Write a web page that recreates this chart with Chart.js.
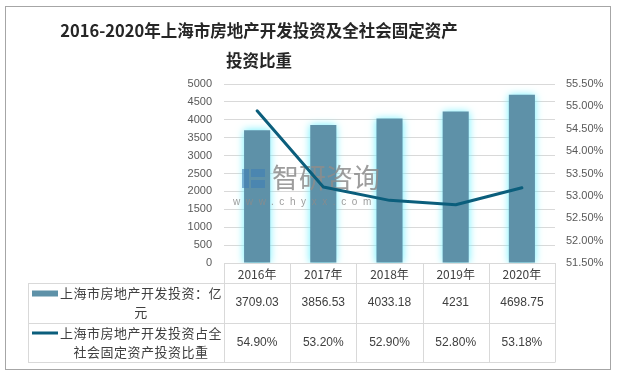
<!DOCTYPE html>
<html>
<head>
<meta charset="utf-8">
<script src="https://cdn.jsdelivr.net/npm/chart.js@4/dist/chart.umd.min.js"></script>
<style>
  html, body { margin: 0; padding: 0; background: #fff; }
  #wrap { width: 620px; height: 375px; position: relative; }
</style>
</head>
<body>
<div id="wrap"><canvas id="c" width="620" height="375"></canvas></div>
<script>
const titleLines = ['2016-2020年上海市房地产开发投资及全社会固定资产', '投资比重'];
const categories = ['2016年', '2017年', '2018年', '2019年', '2020年'];
const investment = [3709.03, 3856.53, 4033.18, 4231, 4698.75];
const shareRatio = [54.90, 53.20, 52.90, 52.80, 53.18];
const seriesNames = ['上海市房地产开发投资：亿元', '上海市房地产开发投资占全社会固定资产投资比重'];
const leftTicks = { min: 0, max: 5000, step: 500 };
const rightTicks = { min: 51.5, max: 55.5, step: 0.5 };

const BAR_COLOR = '#5E91A8';
const LINE_COLOR = '#0B5E7C';
const GRID = '#D9D9D9';
const TXT = '#404040';
const TICK = '#595959';
const FONT = '"Liberation Sans", "Noto Sans CJK SC", sans-serif';
const CJK = '"Noto Sans CJK SC", "Liberation Sans", sans-serif';

function drawWatermark(ctx) {
  ctx.save();
  ctx.globalAlpha = 0.6;
  ctx.fillStyle = '#3F7FB5';
  ctx.fillRect(242, 169, 7, 19);
  ctx.fillRect(251, 169, 14, 8);
  ctx.fillRect(251, 180, 14, 8);
  ctx.globalAlpha = 0.85;
  ctx.fillStyle = '#8C8C8C';
  ctx.font = '27px ' + CJK;
  ctx.textAlign = 'left';
  ctx.textBaseline = 'middle';
  ctx.letterSpacing = '0px';
  ctx.fillText('智研咨询', 272, 178);
  ctx.font = '10px ' + FONT;
  ctx.letterSpacing = '5.6px';
  ctx.fillText('www.chyxx.com', 233, 202);
  ctx.restore();
}

const glowPlugin = {
  id: 'glow',
  beforeDatasetDraw(chart, args) {
    if (args.meta.type === 'bar') {
      const ctx = chart.ctx;
      ctx.save();
      ctx.shadowColor = 'rgba(110,240,255,1)';
      ctx.shadowBlur = 8;
    }
  },
  afterDatasetDraw(chart, args) {
    if (args.meta.type === 'bar') {
      chart.ctx.restore();
    }
  },
  afterDatasetsDraw(chart) {
    // watermark over bars
  }
};

const decorPlugin = {
  id: 'decor',
  beforeDraw(chart) {
    const ctx = chart.ctx;
    ctx.save();
    ctx.fillStyle = '#fff';
    ctx.fillRect(0, 0, chart.width, chart.height);
    ctx.strokeStyle = '#A6A6A6';
    ctx.lineWidth = 1;
    ctx.strokeRect(5.5, 6.5, 605, 363);
    ctx.fillStyle = '#262626';
    ctx.font = 'bold 16.5px ' + CJK;
    ctx.textAlign = 'center';
    ctx.textBaseline = 'middle';
    ctx.fillText(titleLines[0], 259, 31);
    ctx.fillText(titleLines[1], 259, 61);
    ctx.restore();
  },
  afterDraw(chart) {
    const ctx = chart.ctx;
    const xs = chart.scales.x;
    const n = categories.length;
    const cw = xs.width / n;
    const left = xs.left, right = xs.right;
    const legL = 28;
    const yTop = chart.chartArea.bottom;
    const yH = yTop + 20, y1 = yH + 40, y2 = y1 + 39;
    ctx.save();
    ctx.strokeStyle = GRID;
    ctx.lineWidth = 1;
    const hl = (x0, x1, y) => { ctx.beginPath(); ctx.moveTo(x0, Math.round(y) + 0.5); ctx.lineTo(x1, Math.round(y) + 0.5); ctx.stroke(); };
    const vl = (x, y0, y1_) => { ctx.beginPath(); ctx.moveTo(Math.round(x) + 0.5, y0); ctx.lineTo(Math.round(x) + 0.5, y1_); ctx.stroke(); };
    hl(left, right, yTop);
    hl(legL, right, yH);
    hl(legL, right, y1);
    hl(legL, right, y2);
    vl(legL, yH, y2 + 0.5);
    for (let i = 0; i <= n; i++) vl(left + i * cw, yTop, y2 + 0.5);

    ctx.fillStyle = TXT;
    ctx.textAlign = 'center';
    ctx.textBaseline = 'middle';
    ctx.font = '12px ' + CJK;
    categories.forEach((c, i) => ctx.fillText(c, xs.getPixelForValue(i), (yTop + yH) / 2 + 1));
    ctx.font = '12px ' + FONT;
    investment.forEach((v, i) => ctx.fillText(String(v), xs.getPixelForValue(i), (yH + y1) / 2));
    shareRatio.forEach((v, i) => ctx.fillText(v.toFixed(2) + '%', xs.getPixelForValue(i), (y1 + y2) / 2));

    ctx.font = '13px ' + CJK;
    ctx.letterSpacing = '0.5px';
    const textL = 60, textR = 222;
    const wrap = (s) => {
      const lines = []; let cur = '';
      for (const ch of s) {
        if (ctx.measureText(cur + ch).width > (textR - textL + 4) && cur) { lines.push(cur); cur = ch; }
        else cur += ch;
      }
      if (cur) lines.push(cur);
      return lines;
    };
    const rows = [[yH, y1], [y1, y2]];
    seriesNames.forEach((name, k) => {
      const lines = wrap(name);
      const mid = (rows[k][0] + rows[k][1]) / 2;
      const lh = 19;
      const firstY = mid - (lines.length - 1) * lh / 2;
      lines.forEach((ln, j) => ctx.fillText(ln, (textL + textR) / 2, firstY + j * lh));
      if (k === 0) { ctx.fillStyle = BAR_COLOR; ctx.fillRect(32, firstY - 3, 26, 6); }
      else { ctx.fillStyle = LINE_COLOR; ctx.fillRect(32, firstY - 1.5, 26, 3); }
      ctx.fillStyle = TXT;
    });
    ctx.restore();
  }
};

// draws the watermark after the bar dataset, before the line
const markPlugin = {
  id: 'mark',
  beforeDatasetDraw(chart, args) {
    if (args.meta.type === 'line') drawWatermark(chart.ctx);
  }
};

new Chart(document.getElementById('c'), {
  data: {
    labels: categories,
    datasets: [
      {
        type: 'line', label: seriesNames[1], data: shareRatio, yAxisID: 'y1',
        borderColor: LINE_COLOR, borderWidth: 3, pointRadius: 0, tension: 0,
        borderJoinStyle: 'round', borderCapStyle: 'round', order: 0
      },
      {
        type: 'bar', label: seriesNames[0], data: investment, yAxisID: 'y',
        backgroundColor: BAR_COLOR, categoryPercentage: 1, barPercentage: 0.394, order: 1
      }
    ]
  },
  options: {
    responsive: false,
    animation: false,
    layout: { padding: { left: 0, right: 0, top: 84, bottom: 112 } },
    plugins: { legend: { display: false }, title: { display: false }, tooltip: { enabled: false } },
    scales: {
      x: { type: 'category', display: false, offset: true },
      y: {
        position: 'left', min: leftTicks.min, max: leftTicks.max,
        afterFit(s) { s.width = 224; },
        ticks: { stepSize: leftTicks.step, color: TICK, font: { size: 11, family: FONT }, padding: 12,
          callback: v => String(v) },
        grid: { color: GRID, drawTicks: false },
        border: { display: false }
      },
      y1: {
        position: 'right', min: rightTicks.min, max: rightTicks.max,
        afterFit(s) { s.width = 65; },
        ticks: { stepSize: rightTicks.step, color: TICK, font: { size: 11, family: FONT }, padding: 11,
          callback: v => v.toFixed(2) + '%' },
        grid: { display: false, drawTicks: false },
        border: { display: false }
      }
    }
  },
  plugins: [decorPlugin, glowPlugin, markPlugin]
});
</script>
</body>
</html>
